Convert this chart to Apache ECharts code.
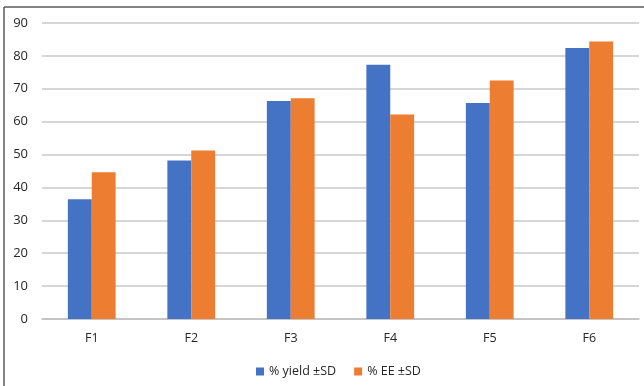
<!DOCTYPE html>
<html>
<head>
<meta charset="utf-8">
<script src="https://cdn.jsdelivr.net/npm/echarts@6/dist/echarts.min.js"></script>
<style>
  html, body { margin: 0; padding: 0; background: #fff; }
  #chart { width: 644px; height: 386px; }
</style>
</head>
<body>
<div id="chart"></div>
<script>
// Formulation categories and measured percentages
const categories = ['F1', 'F2', 'F3', 'F4', 'F5', 'F6'];
const yieldValues = [36.4, 48.2, 66.3, 77.3, 65.7, 82.4];
const eeValues = [44.6, 51.2, 67.1, 62.2, 72.5, 84.4];
const seriesNames = ['% yield ±SD', '% EE ±SD'];

const FONT = '"Open Sans", "Liberation Sans", sans-serif';
const TEXT = '#262626';
const chart = echarts.init(document.getElementById('chart'), null, { renderer: 'canvas' });

chart.setOption({
  animation: false,
  backgroundColor: '#ffffff',
  color: ['#4472C4', '#ED7D31'],
  grid: { left: 42, right: 5, top: 23, bottom: 67, containLabel: false },
  graphic: [
    { type: 'line', shape: { x1: 4, y1: 7, x2: 4, y2: 386 }, style: { stroke: '#5a5a5a', lineWidth: 1.5 } },
    { type: 'line', shape: { x1: 4, y1: 7, x2: 644, y2: 7 }, style: { stroke: '#5a5a5a', lineWidth: 1.5 } }
  ],
  legend: {
    data: seriesNames,
    bottom: 3,
    left: 251,
    itemWidth: 8,
    itemHeight: 8,
    itemGap: 18,
    icon: 'rect',
    textStyle: { fontFamily: FONT, fontSize: 12.5, color: TEXT }
  },
  xAxis: {
    type: 'category',
    data: categories,
    axisLine: { lineStyle: { color: '#bfbfbf', width: 1.5 } },
    axisTick: { show: false },
    axisLabel: { fontFamily: FONT, fontSize: 12.5, color: TEXT, margin: 13 }
  },
  yAxis: {
    type: 'value',
    min: 0,
    max: 90,
    interval: 10,
    axisLine: { show: false },
    axisTick: { show: false },
    splitLine: { lineStyle: { color: '#c8c8c8', width: 1.5 } },
    axisLabel: { fontFamily: FONT, fontSize: 13, color: TEXT, margin: 14 }
  },
  series: [
    {
      name: seriesNames[0],
      type: 'bar',
      data: yieldValues,
      barGap: '0%',
      barCategoryGap: '52%'
    },
    {
      name: seriesNames[1],
      type: 'bar',
      data: eeValues,
      barGap: '0%',
      barCategoryGap: '52%'
    }
  ]
});
</script>
</body>
</html>
